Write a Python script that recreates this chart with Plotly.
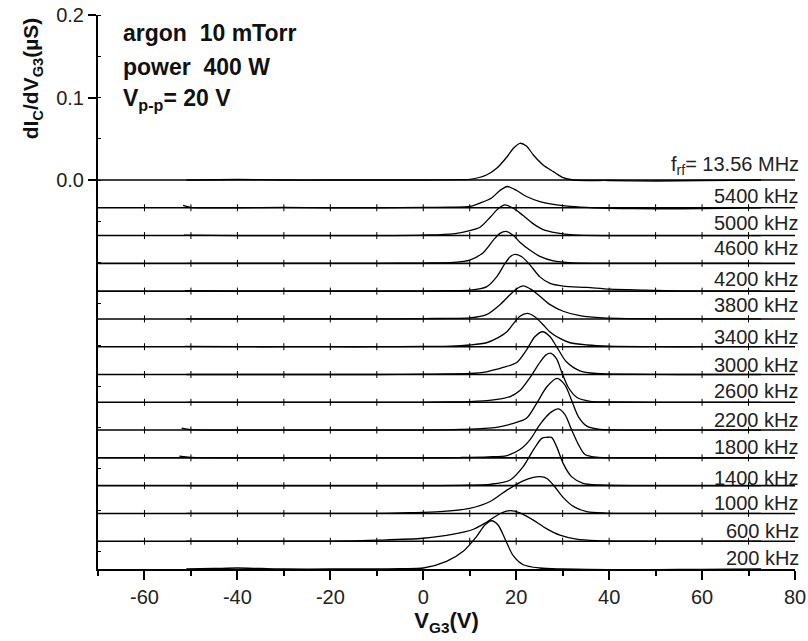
import plotly.graph_objects as go

# ---------------- data ----------------
# curve labels, top to bottom
FREQ_LABELS = ["f<sub>rf</sub>= 13.56 MHz", "5400 kHz", "5000 kHz", "4600 kHz", "4200 kHz",
               "3800 kHz", "3400 kHz", "3000 kHz", "2600 kHz", "2200 kHz", "1800 kHz",
               "1400 kHz", "1000 kHz", "600 kHz", "200 kHz"]

# V_G3 (V) samples and dI_C/dV_G3 in nS (= µS x 1000) for each curve
V_13560 = [-51, -40, -30, -20, -10, 0, 8, 10.1, 13.6, 15.8, 18, 19.4, 20.8, 22.2, 23.7, 25.8, 28, 30.1, 32.3, 40, 50, 60, 72.7]
G_13560 = [0, 0.6, 0, 0, 0, 0, 0.4, 0.8, 6.1, 14.2, 27.9, 38.4, 44.5, 41.2, 30.3, 18.2, 10.1, 2.8, 0, -0.6, -1.2, -0.6, 0]

V_5400 = [-51.7, -50, -40, -30, -20, -10, 0, 6, 10, 12.2, 14.7, 16.5, 18.1, 20.1, 22.2, 25.1, 28, 31.6, 36.6, 45, 55, 65, 72.7]
G_5400 = [2.9, 0.6, 0, 0.4, 0, 0, 0.4, 0.8, 1.6, 5.7, 11.8, 21.0, 25.8, 21.0, 13.7, 7.6, 4.0, 1.6, 0, -1.0, -1.2, -0.6, 0]

V_5000 = [-51.5, -40, -30, -20, -10, 0, 6.5, 10, 12.2, 14.4, 16.1, 17.6, 19.4, 21.5, 23.7, 25.8, 28.7, 32.3, 40, 50, 60, 72.7]
G_5000 = [0.6, 0, 0, 0, 0, 0.6, 2.1, 6.1, 10.1, 22.2, 32.4, 37.2, 33.1, 24.2, 14.2, 7.3, 3.3, 0.8, 0, 0, 0, 0]

V_4600 = [-50.8, -40, -30, -20, -10, 0, 6.5, 10, 12.9, 15.1, 16.5, 17.8, 19.4, 20.8, 23, 25.1, 28, 32, 40, 50, 60, 72.7]
G_4600 = [0, 0, 0, 0, 0, 0.4, 1.2, 4.0, 13.0, 28.2, 36.4, 38.8, 33.9, 25.5, 15.8, 8.5, 3.0, 0.6, 0, 0, 0, 0]

V_4200 = [-51.3, -40, -30, -20, -10, 0, 6, 10, 13.6, 15.8, 17.6, 18.7, 19.7, 21.2, 23, 25.1, 27.3, 30.1, 35.2, 40.2, 48, 56, 72.7]
G_4200 = [0.6, 0, 0, 0, 0, 0, 0.6, 1.2, 5.2, 17.3, 33.6, 41.6, 44.5, 41.6, 31.5, 17.3, 9.3, 6.1, 4.5, 2.4, 1.2, 0, 0]

V_3800 = [-51, -40, -30, -20, -10, 0, 6, 10, 13.6, 16.5, 18.7, 20.1, 21.5, 23.3, 25.1, 27.3, 30.1, 33.7, 38.7, 45, 55, 65, 72.7]
G_3800 = [0, 0, 0, 0, 0, 0.4, 0.7, 1.2, 5.2, 17.3, 29.5, 36.4, 40.0, 35.5, 27.5, 17.3, 9.3, 4.0, 1.2, 0.4, 0, 0, 0]

V_3400 = [-51.3, -40, -30, -20, -10, 0, 6, 10, 13.6, 15.8, 18, 19.4, 20.8, 22.4, 24, 25.8, 27.2, 29.4, 31.6, 35.2, 40, 50, 60, 72.7]
G_3400 = [0.4, 0, 0, 0, 0, 0.4, 0.7, 2.1, 4.8, 10.1, 18.2, 27.9, 37.0, 40.4, 36.4, 26.7, 18.2, 10.1, 4.8, 2.1, 0.6, 0, 0, 0]

V_3000 = [-51, -40, -30, -20, -10, 0, 5, 10, 13.6, 17.2, 20.1, 22.2, 24, 25.7, 27.3, 28.7, 30.8, 33.7, 37.3, 45, 55, 65, 72.7]
G_3000 = [0, 0, 0, 0, 0, 0.4, 0.6, 1.2, 3.3, 8.5, 14.5, 29.5, 45.7, 51.8, 45.7, 33.6, 15.4, 4.5, 1.2, 0.4, 0, 0, 0]

V_2600 = [-51, -40, -30, -20, -10, 0, 5, 10, 15.1, 18.7, 20.8, 23, 25.1, 26.5, 27.5, 28.7, 29.8, 31.2, 33, 35.9, 40, 50, 60, 72.7]
G_2600 = [0, 0, 0, 0, 0, 0, 0.4, 0.8, 2.8, 6.9, 14.2, 30.3, 48.5, 57.8, 59.4, 52.5, 36.4, 18.2, 6.1, 1.2, 0.4, 0, 0, 0]

V_2200 = [-52, -50, -40, -30, -20, -10, 0, 8, 15.8, 19.4, 22.2, 24.4, 26.6, 28.8, 30.5, 31.9, 33.4, 35.2, 38, 45, 55, 65, 72.7]
G_2200 = [2.4, 0.6, 0, 0, 0, 0, 0, 0.8, 3.3, 8.1, 14.2, 32.4, 52.5, 62.7, 54.5, 36.4, 16.1, 4.8, 0.8, 0, 0, 0, 0]

V_1800 = [-52.5, -50, -40, -30, -20, -10, 0, 8, 14, 18, 20.8, 23, 25.1, 27.3, 29.1, 30.5, 31.9, 33.4, 34.8, 37.3, 45, 55, 65, 72.7]
G_1800 = [2.1, 0.5, 0, 0, 0, 0, 0, 0.4, 1.2, 2.8, 10.1, 22.2, 40.4, 54.5, 59.4, 52.5, 34.3, 16.1, 4.0, 0.8, 0, 0, 0, 0]

V_1400 = [-51, -40, -30, -20, -10, 0, 8, 14.4, 18.7, 21.5, 23.7, 25.5, 26.6, 27.6, 28.7, 30.1, 31.9, 34.4, 38, 45, 55, 65, 72.7]
G_1400 = [0, 0, 0, 0, 0, 0, 0.4, 1.6, 6.9, 23.0, 43.3, 57.3, 58.5, 58.5, 47.3, 27.0, 10.9, 2.8, 0.8, 0, 0, 0, 0]

V_1000 = [-51, -40, -30, -20, -10, -3, 3.6, 10, 14.4, 18, 21.5, 23.7, 25.1, 26.6, 28.3, 30.1, 32.3, 35.2, 39.5, 45, 55, 65, 72.7]
G_1000 = [0, 0, 0, 0, 0, 0.8, 2.1, 6.1, 14.5, 28.2, 39.5, 43.6, 44.5, 42.4, 32.4, 19.5, 8.5, 2.1, 0.4, 0, 0, 0, 0]

V_600 = [-51, -40, -30, -20, -10, 0, 6.5, 10.8, 13.6, 16.5, 18.7, 20.8, 23.7, 26.5, 29.4, 33, 37.3, 45, 55, 65, 72.7]
G_600 = [0, 0, 0, 0, 1.2, 3.6, 8.5, 14.5, 23.0, 33.3, 37.0, 34.3, 25.5, 15.2, 7.3, 2.4, 0.6, 0, 0, 0, 0]

V_200 = [-51, -45, -40, -35, -30, -20, -10, -5, 0, 5, 8.6, 11.5, 13.3, 14.7, 16.1, 17.6, 19.4, 21.5, 25.1, 30, 40, 50, 60, 72.7]
G_200 = [0, 0.6, 1.2, 0.6, 0, 0, 0, 0.4, 1.2, 9.3, 21.5, 39.6, 53.7, 58.5, 53.3, 36.4, 15.8, 5.2, 1.2, 0, -0.8, -0.8, -0.4, 0]

OFFSET_STEP = 0.03368   # µS, vertical shift between stacked curves

X_TICKS = [-60, -40, -20, 0, 20, 40, 60, 80]
X_TICK_TEXT = ["-60", "-40", "-20", "0", "20", "40", "60", "80"]
Y_TICKS = [0.0, 0.1, 0.2]
Y_TICK_TEXT = ["0.0", "0.1", "0.2"]
BASELINE_TICKS = [-60, -50, -40, -30, -20, -10, 0, 10, 20, 30, 40, 50, 60, 70]

CURVES = [(V_13560, G_13560), (V_5400, G_5400), (V_5000, G_5000), (V_4600, G_4600),
          (V_4200, G_4200), (V_3800, G_3800), (V_3400, G_3400), (V_3000, G_3000),
          (V_2600, G_2600), (V_2200, G_2200), (V_1800, G_1800), (V_1400, G_1400),
          (V_1000, G_1000), (V_600, G_600), (V_200, G_200)]

# ---------------- style ----------------
FONT = "Liberation Sans, Arial, sans-serif"
LABEL_LIFT_PX = [15, 12, 13, 15, 12, 14, 10, 10, 11, 10, 11, 8, 10, 10, 11]
LABEL_RIGHT = 1.0079      # paper x of the right edge of curve labels
XMIN, XMAX = -70, 80
YMIN = -OFFSET_STEP * (len(CURVES) - 1)
YMAX = 0.2

fig = go.Figure()

n = len(CURVES)
for k, (v, g) in enumerate(CURVES):
    off = -k * OFFSET_STEP
    if k < n - 1:
        # baseline line across the full axis width
        fig.add_trace(go.Scatter(x=[XMIN, XMAX], y=[off, off], mode="lines",
                                 line=dict(color="black", width=1.6),
                                 hoverinfo="skip", showlegend=False))
    if 0 < k < n - 1:
        fig.add_trace(go.Scatter(x=BASELINE_TICKS, y=[off] * len(BASELINE_TICKS),
                                 mode="markers",
                                 marker=dict(symbol="line-ns", size=5,
                                             line=dict(color="black", width=1)),
                                 hoverinfo="skip", showlegend=False))
    fig.add_trace(go.Scatter(x=v, y=[off + gi / 1000.0 for gi in g], mode="lines",
                             line=dict(color="black", width=1.3, shape="spline", smoothing=0.8),
                             showlegend=False, name=FREQ_LABELS[k]))
    fig.add_annotation(x=LABEL_RIGHT, y=off, xref="paper", yref="y", text=FREQ_LABELS[k],
                       showarrow=False, xanchor="right", yanchor="middle",
                       yshift=LABEL_LIFT_PX[k],
                       font=dict(family=FONT, size=20, color="#222"))

# top-left condition texts
cond = ["<b>argon&nbsp; 10 mTorr</b>", "<b>power&nbsp; 400 W</b>", "<b>V<sub>p-p</sub>= 20 V</b>"]
cond_y = [0.178, 0.137, 0.097]
for t, yy in zip(cond, cond_y):
    fig.add_annotation(x=0.033, y=yy, xref="paper", yref="y", text=t, showarrow=False,
                       xanchor="left", yanchor="middle",
                       font=dict(family=FONT, size=23, color="#111"))

# y-axis title placed at the top part of the axis
fig.add_annotation(x=-0.095, y=0.123, xref="paper", yref="y",
                   text="<b>dI<sub>C</sub>/dV<sub>G3</sub>(µS)</b>", textangle=-90,
                   showarrow=False, xanchor="center", yanchor="middle",
                   font=dict(family=FONT, size=21, color="#111"))

fig.update_layout(
    width=808, height=641,
    margin=dict(l=98, r=13, t=15, b=72),
    paper_bgcolor="white", plot_bgcolor="white",
    font=dict(family=FONT, color="#111"),
    xaxis=dict(range=[XMIN, XMAX], showgrid=False, zeroline=False,
               showline=True, linecolor="black", linewidth=2,
               tickmode="array", tickvals=X_TICKS, ticktext=X_TICK_TEXT,
               ticks="outside", ticklen=9, tickwidth=1.5, tickcolor="black",
               minor=dict(tickmode="linear", tick0=0, dtick=10, ticks="outside",
                          ticklen=5, tickwidth=1.5, tickcolor="black"),
               tickfont=dict(family=FONT, size=20, color="#222"),
               title=dict(text="<b>V<sub>G3</sub>(V)</b>", standoff=4,
                          font=dict(family=FONT, size=22, color="#111")),
               automargin=False, fixedrange=True),
    yaxis=dict(range=[YMIN, YMAX], showgrid=False, zeroline=False,
               showline=True, linecolor="black", linewidth=2,
               tickmode="array", tickvals=Y_TICKS, ticktext=Y_TICK_TEXT,
               ticks="outside", ticklen=8, tickwidth=1.5, tickcolor="black",
               minor=dict(tickmode="linear", tick0=0, dtick=0.05, ticks="inside",
                          ticklen=3, tickwidth=1, tickcolor="black"),
               tickfont=dict(family=FONT, size=20, color="#222"),
               automargin=False, fixedrange=True),
)

fig.write_html("out.html", config={"displayModeBar": False},
               post_script="document.body.style.margin='0';")
